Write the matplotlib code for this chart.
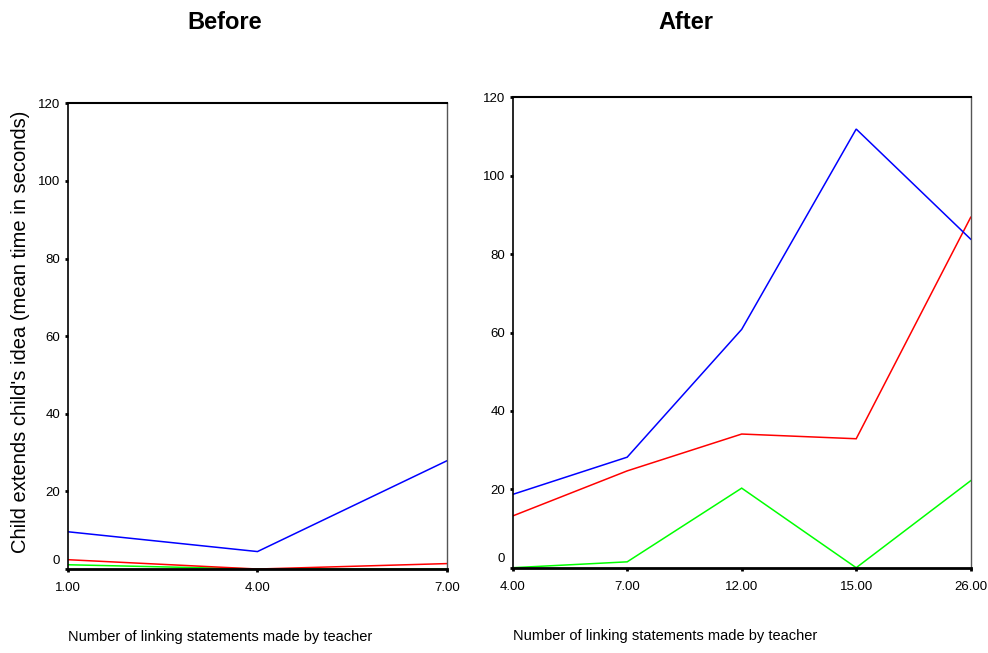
import matplotlib
matplotlib.use("Agg")
import matplotlib.pyplot as plt
import matplotlib.transforms as mtransforms
import numpy as np

# mean time (s) by number of linking statements, three groups per period
before_x = ["1.00", "4.00", "7.00"]
before_blue = [9.6, 4.5, 27.9]
before_red = [2.4, 0.0, 1.4]
before_green = [1.1, 0.0, 0.0]

after_x = ["4.00", "7.00", "12.00", "15.00", "26.00"]
after_blue = [18.7, 28.2, 60.8, 111.9, 83.8]
after_red = [13.2, 24.7, 34.1, 32.9, 89.4]
after_green = [0.0, 1.5, 20.3, 0.0, 22.2]

y_ticks = [0, 20, 40, 60, 80, 100, 120]

tick_font = ["Liberation Sans", "DejaVu Sans"]

fig = plt.figure(figsize=(9.88, 6.53), dpi=100)
ax_before = fig.add_axes([0.0688, 0.1286, 0.3836, 0.7132])
ax_after = fig.add_axes([0.5189, 0.1306, 0.4636, 0.7204])


def style_axis(ax, labels, series):
    pos = np.arange(len(labels))
    for vals, col in series:
        ax.plot(pos, vals, color=col, linewidth=1.1, solid_joinstyle="miter")
    ax.set_xlim(0, len(labels) - 1)
    ax.set_ylim(0, 120)
    ax.set_xticks(pos)
    ax.set_xticklabels(labels, family=tick_font, fontsize=9.5)
    ax.set_yticks(y_ticks)
    ax.set_yticklabels([str(v) for v in y_ticks], family=tick_font, fontsize=9.5)
    ax.tick_params(direction="out", length=2.5, width=2, color="black", pad=3)
    ax.tick_params(axis="x", pad=7)
    ax.spines["bottom"].set_linewidth(2)
    ax.spines["top"].set_linewidth(1.5)
    ax.spines["left"].set_linewidth(1.2)
    ax.spines["right"].set_linewidth(1)
    ax.spines["right"].set_color("#555555")
    # lift the zero label a little off the x axis
    zero = ax.yaxis.get_major_ticks()[0].label1
    zero.set_transform(zero.get_transform() +
                       mtransforms.ScaledTranslation(0, 7 / 72, fig.dpi_scale_trans))
    ax.text(0, -0.145, "Number of linking statements made by teacher",
            transform=ax.transAxes, family=tick_font, fontsize=10.5,
            ha="left", va="center")


style_axis(ax_before, before_x, [(before_green, "#00ff00"),
                                 (before_red, "#ff0000"),
                                 (before_blue, "#0000ff")])
style_axis(ax_after, after_x, [(after_green, "#00ff00"),
                               (after_red, "#ff0000"),
                               (after_blue, "#0000ff")])

fig.text(0.2277, 0.966, "Before", ha="center", va="center",
         fontsize=17, fontweight="bold", family="Liberation Sans")
fig.text(0.6943, 0.966, "After", ha="center", va="center",
         fontsize=17, fontweight="bold", family="Liberation Sans")

fig.text(0.021, 0.492, "Child extends child's idea (mean time in seconds)",
         rotation=90, ha="center", va="center", fontsize=14.5,
         family="Liberation Sans")

fig.savefig("out.png", dpi=100)
